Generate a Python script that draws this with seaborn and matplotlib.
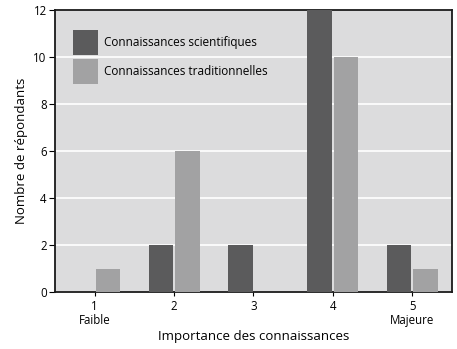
import matplotlib
matplotlib.use("Agg")
import matplotlib.pyplot as plt
import seaborn as sns
import pandas as pd

categories = ["1", "2", "3", "4", "5"]
tick_labels = ["1\nFaible", "2", "3", "4", "5\nMajeure"]
scientifiques = [0, 2, 2, 12, 2]
traditionnelles = [1, 6, 0, 10, 1]
series_names = ["Connaissances scientifiques", "Connaissances traditionnelles"]

df = pd.DataFrame({
    "Importance": categories * 2,
    "Nombre": scientifiques + traditionnelles,
    "Type": [series_names[0]] * 5 + [series_names[1]] * 5,
})

sns.set_theme(style="white")
plt.rcParams["font.family"] = ["Open Sans", "DejaVu Sans"]
plt.rcParams["text.color"] = "black"
plt.rcParams["axes.labelcolor"] = "black"
plt.rcParams["xtick.color"] = "black"
plt.rcParams["ytick.color"] = "black"

fig = plt.figure(figsize=(4.57, 3.49), dpi=100)
ax = fig.add_axes([0.1204, 0.1633, 0.8686, 0.808])
ax.set_facecolor("#dcdcdd")

sns.barplot(data=df, x="Importance", y="Nombre", hue="Type",
            palette=["#5b5b5c", "#a2a2a3"], width=0.66, gap=0.06,
            saturation=1, linewidth=0, edgecolor="none", ax=ax, zorder=3)

ax.set_ylim(0, 12)
ax.set_xlim(-0.5, 4.5)
ax.set_yticks(range(0, 13, 2))
ax.yaxis.grid(True, color="white", linewidth=1.2, zorder=1)
ax.set_axisbelow(True)
ax.set_xticks(range(5))
ax.set_xticklabels(tick_labels, fontsize=8.3, linespacing=1.1)
ax.tick_params(axis="y", labelsize=8.3, length=4, width=0.8, left=True, pad=2)
ax.tick_params(axis="x", length=3, width=0.8, bottom=True, pad=3)
for s in ax.spines.values():
    s.set_color("#1a1a1a")
    s.set_linewidth(1.3)

ax.set_xlabel("Importance des connaissances", fontsize=9.5, labelpad=2)
ax.set_ylabel("Nombre de répondants", fontsize=9.5, labelpad=4)

leg = ax.legend(loc="upper left", bbox_to_anchor=(0.045, 0.93), frameon=False,
                fontsize=8.5, handlelength=2.1, handleheight=2.95,
                handletextpad=0.55, labelspacing=0.3, borderaxespad=0,
                borderpad=0)
for h in leg.legend_handles:
    h.set_edgecolor("none")

fig.savefig("out.png", dpi=100)
